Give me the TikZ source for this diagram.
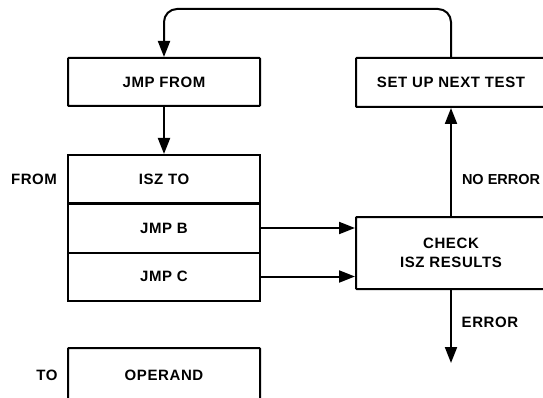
\documentclass[tikz,border=0pt]{standalone}
\usepackage{fontspec}
\setmainfont[LetterSpace=4]{Liberation Sans}
\newfontfamily\tightfont{Liberation Sans}
\usetikzlibrary{arrows.meta}
\begin{document}
\begin{tikzpicture}[x=1pt,y=-1pt,line width=2pt,
  txt/.style={font=\fontsize{15}{19}\selectfont\bfseries, inner sep=0pt, align=center},
  box/.style={txt, draw, rectangle, rounded corners=0.8pt, minimum width=192pt, minimum height=48pt},
  arr/.style={-{Triangle[length=16pt,width=12pt]}}]
\useasboundingbox (0,0) rectangle (543,398);
\clip (0,0) rectangle (543,398);
% boxes
\node[box] (jmp) at (164,82) {JMP FROM};
\node[box, minimum width=190pt, minimum height=49pt] (setup) at (451,82.5) {SET UP NEXT TEST};
\node[box, sharp corners] (isz) at (164,179) {ISZ TO};
\node[box, sharp corners, minimum height=49pt] (jmpb) at (164,228) {JMP B};
\node[box, sharp corners] (jmpc) at (164,276.5) {JMP C};
\node[box, minimum width=190pt, minimum height=72pt] (check) at (451,253) {CHECK\\ISZ RESULTS};
\node[box, minimum height=54pt] (operand) at (164,375) {OPERAND};
% labels
\node[txt] (lfrom) at (34,179) {FROM};
\node[txt] (lto) at (47,375) {TO};
\node[txt, font=\fontsize{14.5}{19}\selectfont\tightfont\bfseries, anchor=west] (lnoerr) at (461,180) {NO ERROR};
\node[txt] (lerr) at (490,322) {ERROR};
% coordinates
\coordinate (top) at (0,9);
\coordinate (errend) at (451,363);
% connectors
\draw[arr, rounded corners=13pt] (setup.north) |- (top -| jmp.north) -- (jmp.north);
\draw[arr] (jmp.south) -- (isz.north);
\draw[arr] (jmpb.east) -- (jmpb.east -| check.west);
\draw[arr] (jmpc.east) -- (jmpc.east -| check.west);
\draw[arr] (check.north) -- (setup.south);
\draw[arr] (check.south) -- (errend);
\end{tikzpicture}
\end{document}
